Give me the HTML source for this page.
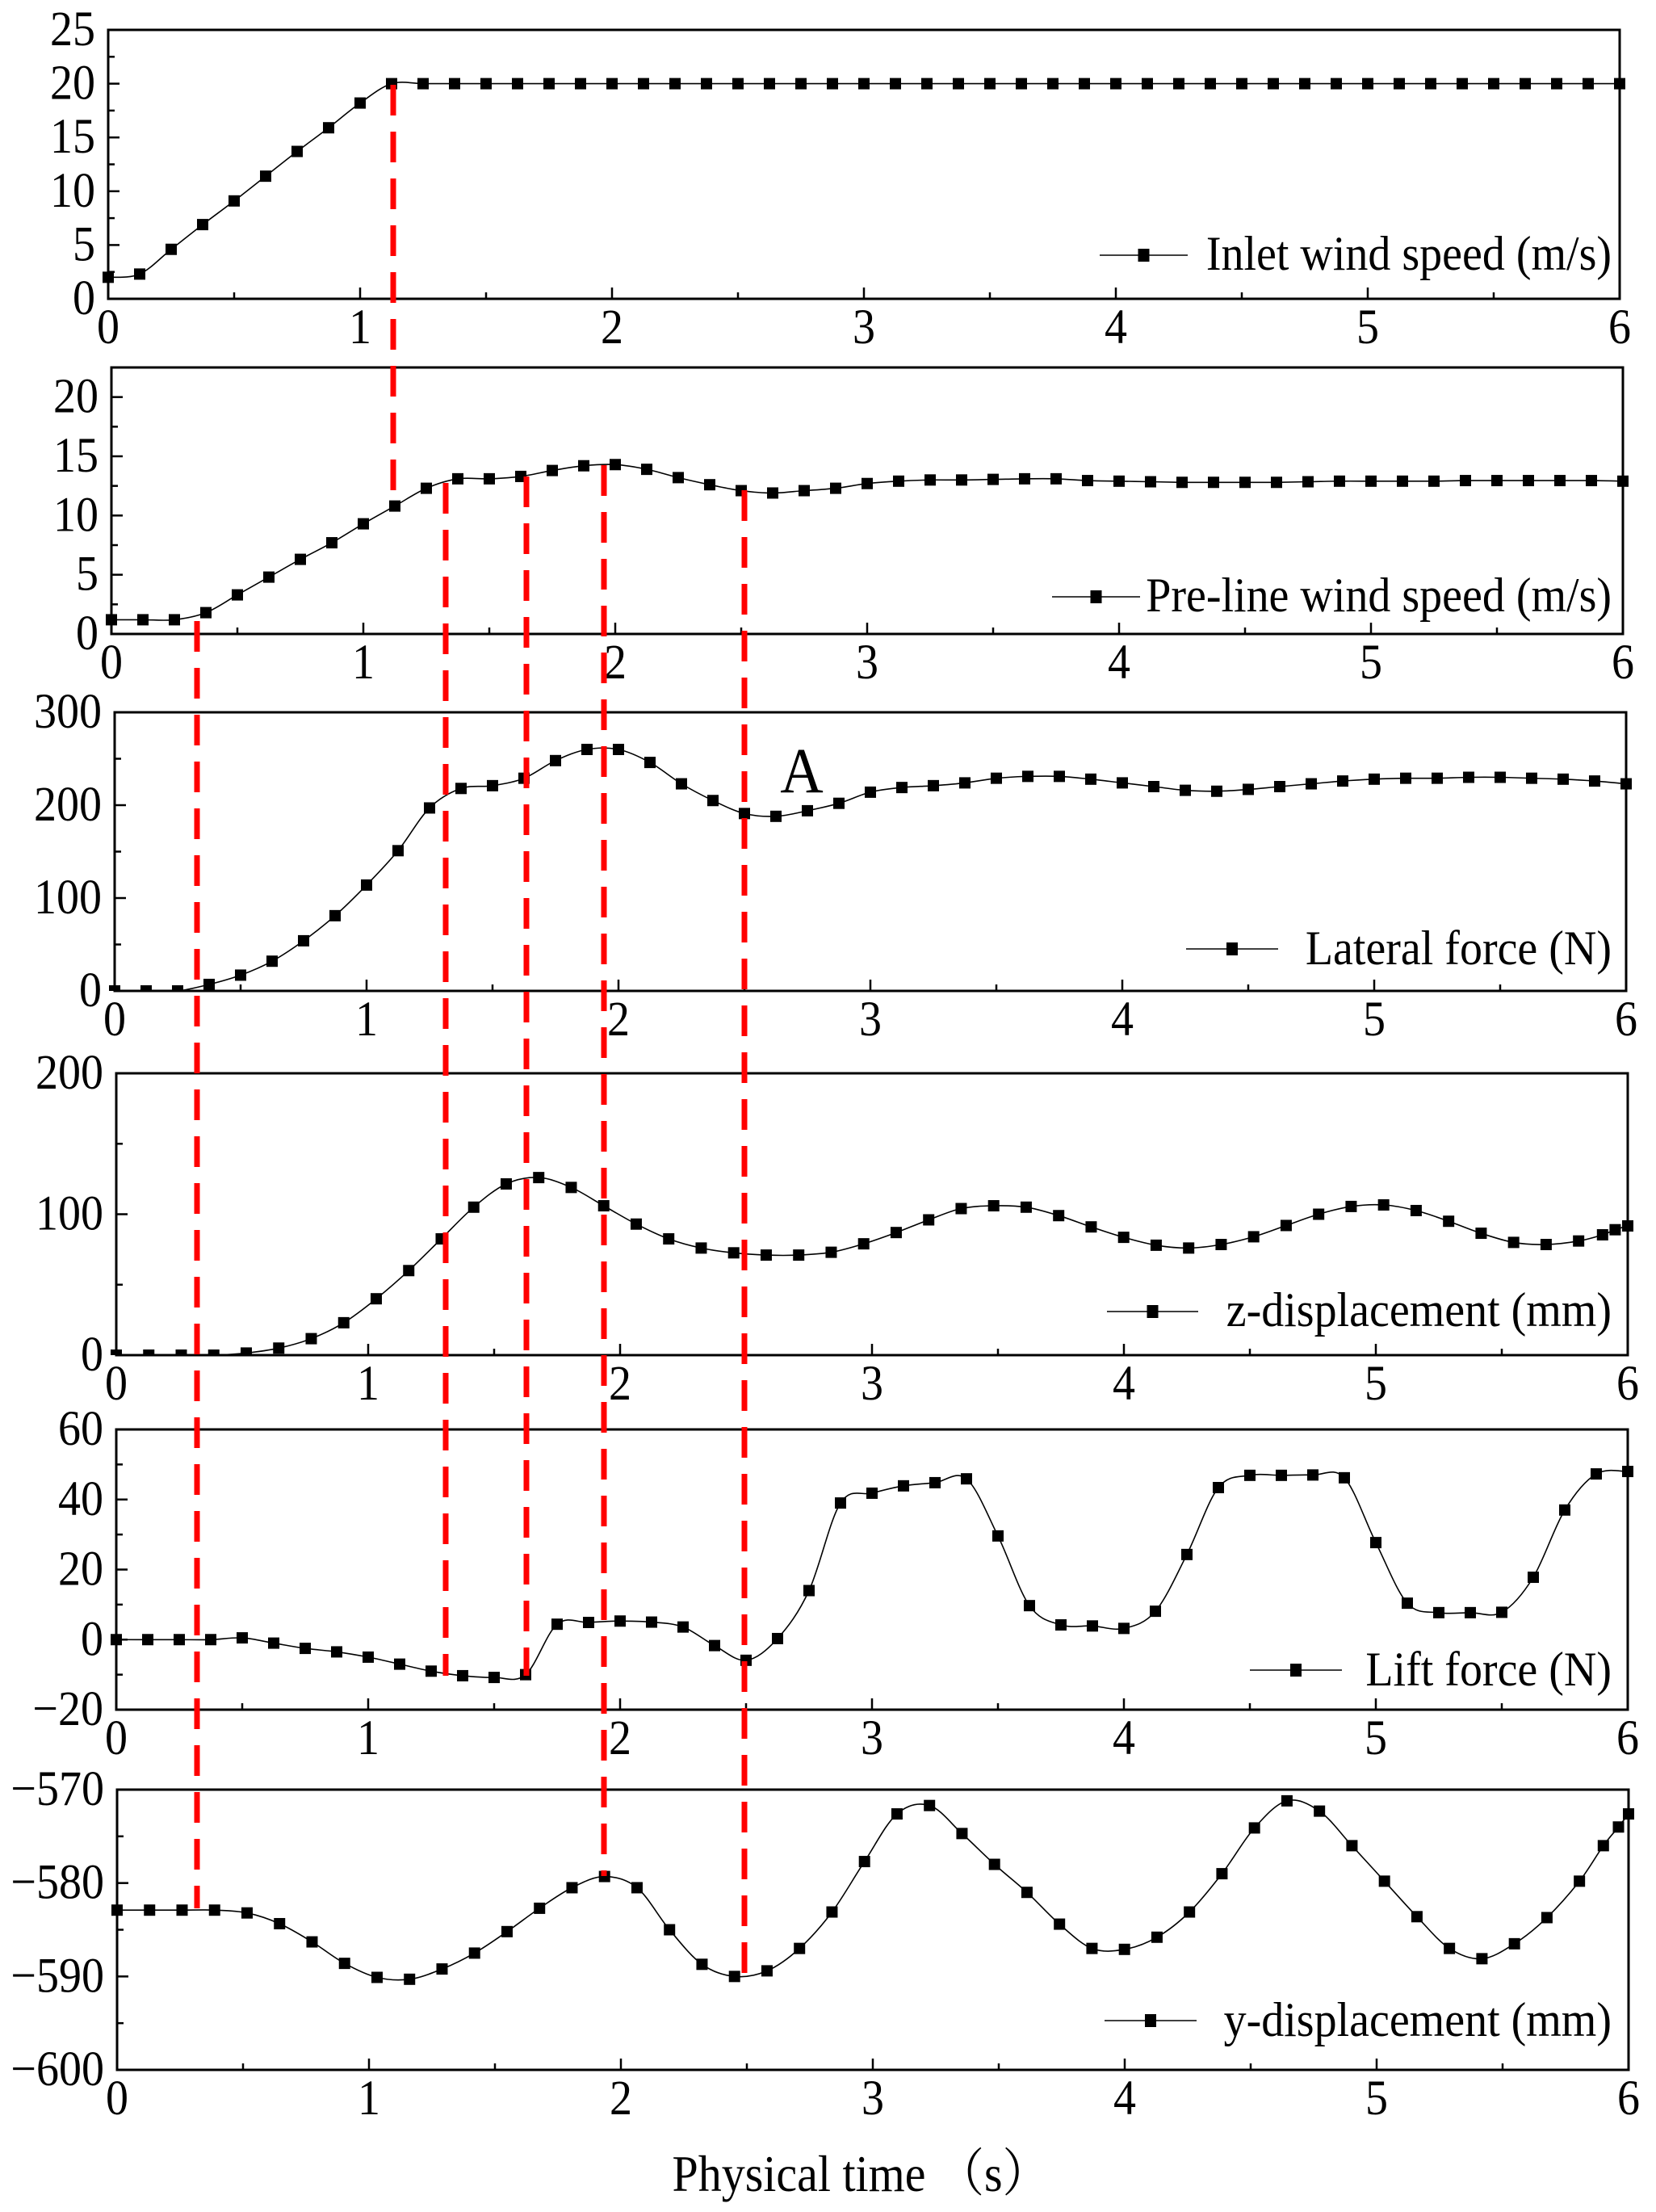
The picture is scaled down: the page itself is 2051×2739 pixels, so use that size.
<!DOCTYPE html>
<html><head><meta charset="utf-8">
<style>
html,body{margin:0;padding:0;background:#fff;}
svg{display:block;}
text{font-family:"Liberation Serif","Noto Serif CJK SC",serif;fill:#000;}
</style></head>
<body>
<svg id="s" width="2051" height="2739" viewBox="0 0 2051 2739" xmlns="http://www.w3.org/2000/svg"></svg>
<script>
const S=document.getElementById('s');const NS='http://www.w3.org/2000/svg';
function el(n,a,p){const e=document.createElementNS(NS,n);for(const k in a)e.setAttribute(k,a[k]);(p||S).appendChild(e);return e;}
function txt(x,y,s,size,anchor,sy){const g=el('g',{transform:`translate(${x},${y}) scale(1,${sy||1.15})`});const t=el('text',{x:0,y:0,'font-size':size,'text-anchor':anchor||'middle'},g);t.textContent=s;return t;}
function fill(n,step,vals,extra){const a=vals.map((v,i)=>[i*step,v]);return extra?a.concat(extra):a;}
const P=[
{x0:134,top:37,bot:370,ymin:0,ymax:25,maj:5,min:2.5,labs:[0,5,10,15,20,25],
 d:fill(49,0.125,[2,2.3,4.6,6.9,9.1,11.4,13.7,15.9,18.2,20].concat(Array(39).fill(20))),
 leg:{l1:1362,l2:1471,ly:316,ty:334,s:'Inlet wind speed (m/s)'}},
{x0:138,top:455,bot:785,ymin:0,ymax:22.5,maj:5,min:2.5,labs:[0,5,10,15,20],
 d:fill(49,0.125,[1.2,1.2,1.2,1.8,3.3,4.8,6.3,7.7,9.3,10.8,12.3,13.1,13.1,13.3,13.8,14.2,14.3,13.9,13.2,12.6,12.1,11.9,12.1,12.3,12.7,12.9,13.0,13.0,13.05,13.1,13.1,12.95,12.9,12.85,12.8,12.8,12.8,12.8,12.85,12.9,12.9,12.9,12.9,12.95,12.95,12.95,12.95,12.95,12.9]),
 leg:{l1:1303,l2:1412,ly:739,ty:757,s:'Pre-line wind speed (m/s)'}},
{x0:142,top:882,bot:1227,ymin:0,ymax:300,maj:100,min:50,labs:[0,100,200,300],
 d:fill(49,0.125,[0,0,0,7,17,32,54,81,114,151,197,218,221,229,248,260,260,246,223,205,191,188,194,202,214,219,221,224,229,231,231,228,224,220,216,215,217,220,223,226,228,229,229,230,230,229,228,226,223]),
 leg:{l1:1469,l2:1583,ly:1175,ty:1194,s:'Lateral force (N)'}},
{x0:144,top:1329,bot:1678,ymin:0,ymax:200,maj:100,min:50,labs:[0,100,200],
 d:fill(0,0.129,[0,0,0,0,1.5,5,11.7,23,40,60,82.5,105,121.5,126,119,106,93,82.5,76,72.6,71,71,73,79,87,96,104,106,105,99,91,83.6,78,76,78.5,84,92,100,105.5,106.6,102.6,95,86.5,80,78.5,81],[[5.9,85.4],[5.95,89],[6.0,91.7]]),
 leg:{l1:1371,l2:1484,ly:1624,ty:1642,s:'z-displacement (mm)'}},
{x0:144,top:1770,bot:2117,ymin:-20,ymax:60,maj:20,min:10,labs:[-20,0,20,40,60],
 d:fill(49,0.125,[0,0,0,0,0.5,-1,-2.5,-3.5,-5,-7,-9,-10.3,-10.8,-10,4.4,4.9,5.3,5,3.6,-1.7,-5.9,0.3,14,39,41.8,43.9,44.8,45.9,29.6,9.7,4.2,3.9,3.2,8.1,24.3,43.4,46.9,46.9,47,46.2,27.7,10.4,7.7,7.7,7.8,17.8,37,47.3,48]),
 leg:{l1:1548,l2:1662,ly:2068,ty:2087,s:'Lift force (N)'}},
{x0:145,top:2216,bot:2563,ymin:-600,ymax:-570,maj:10,min:5,labs:[-600,-590,-580,-570],
 d:fill(0,0.129,[-582.9,-582.9,-582.9,-582.9,-583.2,-584.35,-586.3,-588.6,-590.1,-590.3,-589.2,-587.5,-585.2,-582.7,-580.5,-579.3,-580.5,-585,-588.7,-590,-589.4,-587,-583.1,-577.7,-572.6,-571.7,-574.7,-578,-581,-584.4,-587,-587.1,-585.8,-583.1,-579,-574.1,-571.2,-572.3,-576,-579.8,-583.6,-587,-588.1,-586.5,-583.7,-579.8],[[5.9,-576],[5.96,-574],[6.0,-572.6]]),
 leg:{l1:1368,l2:1482,ly:2502,ty:2521,s:'y-displacement (mm)'}}
];
const U=312;
P.forEach(p=>{
 const W=6*U;const X=t=>p.x0+t*U;const Y=v=>p.bot-(v-p.ymin)/(p.ymax-p.ymin)*(p.bot-p.top);
 const pts=p.d.map(([t,v])=>[X(t),Y(v)]);
 let d=`M${pts[0][0]},${pts[0][1]}`;
 for(let i=0;i<pts.length-1;i++){const p0=pts[Math.max(i-1,0)],p1=pts[i],p2=pts[i+1],p3=pts[Math.min(i+2,pts.length-1)];
  const c1=[p1[0]+(p2[0]-p0[0])/6,p1[1]+(p2[1]-p0[1])/6],c2=[p2[0]-(p3[0]-p1[0])/6,p2[1]-(p3[1]-p1[1])/6];
  d+=` C${c1[0].toFixed(1)},${c1[1].toFixed(1)} ${c2[0].toFixed(1)},${c2[1].toFixed(1)} ${p2[0].toFixed(1)},${p2[1].toFixed(1)}`;}
 const cp=el('clipPath',{id:'c'+p.top});el('rect',{x:p.x0-10,y:p.top,width:W+20,height:p.bot-p.top},cp);
 const g=el('g',{'clip-path':`url(#c${p.top})`});
 el('path',{d:d,fill:'none',stroke:'#000','stroke-width':1.6},g);
 pts.forEach(q=>el('rect',{x:q[0]-7,y:q[1]-7,width:14,height:14,fill:'#000'},g));
 el('rect',{x:p.x0,y:p.top,width:W,height:p.bot-p.top,fill:'none',stroke:'#000','stroke-width':3});
 for(let k=0;k<=12;k++){const x=X(k/2);const L=k%2?8:14;el('line',{x1:x,x2:x,y1:p.bot,y2:p.bot-L,stroke:'#000','stroke-width':2.5});}
 for(let k=0;k<=6;k++)txt(X(k),p.bot+55,String(k),56,'middle',1.1);
 for(let v=p.ymin;v<=p.ymax+1e-6;v+=p.min){const y=Y(v);const isMaj=Math.abs((v-p.ymin)/p.maj-Math.round((v-p.ymin)/p.maj))<1e-6;
  el('line',{x1:p.x0,x2:p.x0+(isMaj?14:8),y1:y,y2:y,stroke:'#000','stroke-width':2.5});}
 p.labs.forEach(v=>txt(p.x0-16,Y(v)+19,v<0?'\u2212'+(-v):String(v),56,'end',1.1));
 const L=p.leg;el('line',{x1:L.l1,x2:L.l2,y1:L.ly,y2:L.ly,stroke:'#000','stroke-width':1.6});
 el('rect',{x:(L.l1+L.l2)/2-7,y:L.ly-8,width:14,height:16,fill:'#000'});
 txt(1996,L.ty,L.s,56,'end',1.08);
});
[[487,105,625],[244,769,2363],[552,598,2075],[652,590,2075],[748,576,2323],[922,607,2447]].forEach(([x,y1,y2])=>
 el('line',{x1:x,x2:x,y1:y1,y2:y2,stroke:'#ff0000','stroke-width':7,'stroke-dasharray':'38 20'}));
txt(993,981,'A',74,'middle',1.08);
txt(1066,2713,'Physical time （s）',58,'middle',1.1);
</script>
</body></html>
